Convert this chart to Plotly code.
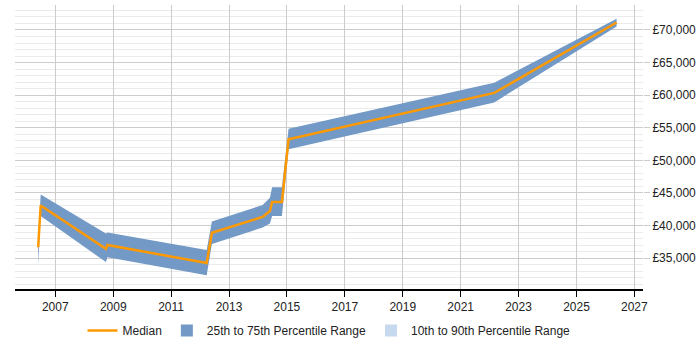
import plotly.graph_objects as go

dates = ["2006-05-30", "2006-07-01", "2008-10-01", "2008-10-20", "2012-03-25",
         "2012-05-30", "2014-03-01", "2014-06-01", "2014-06-28", "2014-10-30",
         "2015-01-22", "2022-03-01", "2026-05-22"]
median = [36670, 43080, 36410, 37020, 34240, 38880, 41320, 42230, 43590, 43590,
          53230, 60350, 71150]
p75 = [37400, 44740, 38790, 38940, 36260, 40600, 43140, 44240, 45860, 45860,
       54850, 61920, 71710]
p25 = [33900, 41470, 34390, 35150, 32380, 37170, 39700, 40300, 41470, 41470,
       51710, 58890, 70550]

BAND = "#7399c6"
BAND_LIGHT = "#c6d9ee"
ORANGE = "#ff9900"

fig = go.Figure()
fig.add_trace(go.Scatter(x=dates, y=p25, mode="lines", line=dict(width=0, color=BAND),
                         showlegend=False, hoverinfo="skip"))
fig.add_trace(go.Scatter(x=dates, y=p75, mode="lines", line=dict(width=0, color=BAND),
                         fill="tonexty", fillcolor=BAND, showlegend=False, hoverinfo="skip"))
fig.add_trace(go.Scatter(x=dates, y=median, mode="lines", name="Median",
                         line=dict(color=ORANGE, width=2.5)))
fig.add_trace(go.Bar(x=[None], y=[None], name="25th to 75th Percentile Range",
                     marker=dict(color=BAND, line=dict(width=0))))
fig.add_trace(go.Bar(x=[None], y=[None], name="10th to 90th Percentile Range",
                     marker=dict(color=BAND_LIGHT, line=dict(width=0))))

fig.update_layout(
    width=700, height=350,
    margin=dict(l=15, r=57, t=5, b=58),
    paper_bgcolor="white", plot_bgcolor="white",
    font=dict(family="Liberation Sans, Arial, sans-serif", size=12, color="#222"),
    showlegend=True,
    legend=dict(orientation="h", x=0.5, xanchor="center", y=-0.146, yanchor="middle",
                itemwidth=30, font=dict(size=12, color="#222"), traceorder="normal"),
    xaxis=dict(type="date", range=["2005-08-11", "2027-04-20"],
               tick0="2007-01-01", dtick="M24", tickformat="%Y",
               showgrid=True, gridcolor="#cccccc", gridwidth=1,
               showline=True, linecolor="#000", linewidth=1.5,
               ticks="outside", ticklen=6, tickcolor="#000", zeroline=False),
    yaxis=dict(side="right", range=[30260, 73830], tick0=0, dtick=5000,
               tickprefix="£", tickformat=",d",
               showgrid=True, gridcolor="#cccccc", gridwidth=1,
               minor=dict(dtick=1000, showgrid=True, gridcolor="#ebebeb", gridwidth=1),
               ticks="outside", ticklen=6, tickcolor="#cccccc",
               showline=False, zeroline=False),
)

fig.write_html("out.html")
